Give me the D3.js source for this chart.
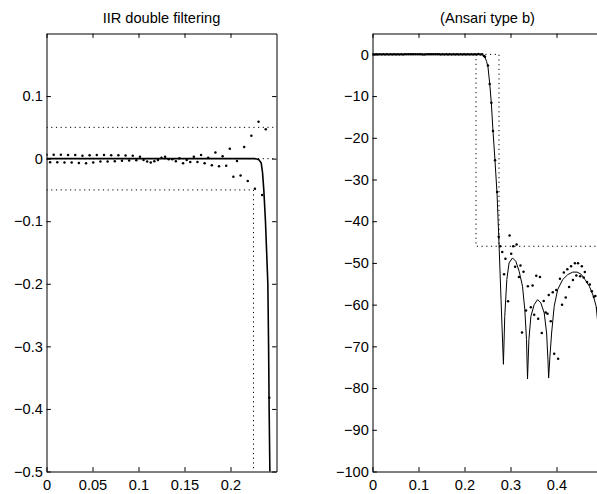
<!DOCTYPE html>
<html><head><meta charset="utf-8">
<script src="https://cdn.jsdelivr.net/npm/d3@7"></script>
<style>
body{margin:0;background:#fff}
svg{display:block}
text{font-family:"Liberation Sans",Arial,Helvetica,sans-serif;fill:#000}
</style>
</head><body>
<svg id="c" width="597" height="494"></svg>
<script>
// ---------------- data ----------------
const titles = ["IIR double filtering", "(Ansari type b)"];

// sampled response (dots), passband samples at k/256
const sampleStep = 1 / 256;
const passbandDb = [
  0.0062,-0.0058,0.0064,-0.0058,0.0063,-0.006,0.006,-0.006,0.0058,-0.0068,
  0.0045,-0.0072,0.0055,-0.0062,0.006,-0.0045,0.0058,-0.0045,0.0055,-0.004,
  0.0055,-0.0035,0.0052,-0.003,0.0045,-0.0025,0.003,-0.002,-0.0045,-0.006,
  -0.004,-0.002,0.0014,0.003,-0.001,-0.001,-0.004,0.0005,-0.0075,-0.002,
  -0.0054,0.003,-0.0054,0.006,-0.0075,0.0014,-0.0107,0.01,-0.0123,0.004,
  -0.0113,0.0158,-0.029,-0.0038,-0.027,0.0185,-0.0357,0.0365,-0.048,0.059,
  -0.058,0.047,-0.382
];
// transition + stopband samples (frequency, dB)
const stopFreq = [0.2445,0.251,0.2548,0.2584,0.262,0.2664,0.2708,0.2744,0.2776,0.2820,
  0.2860,0.2890,0.2947,0.2980,0.3015,0.3060,0.3100,0.3133,0.3184,0.3217,
  0.3250,0.3283,0.3337,0.3377,0.3443,0.3480,0.3515,0.3560,0.3602,0.3640,
  0.3680,0.3722,0.3765,0.3805,0.3832,0.3875,0.3918,0.3950,0.3995,0.4035,
  0.4075,0.4120,0.4160,0.4200,0.4235,0.4275,0.4316,0.4358,0.4400,0.4432,
  0.4468,0.4515,0.4550,0.4590,0.4615,0.4665,0.4724,0.4768,0.4812,0.4845,0.4885];
const stopDb = [-0.6,-2.7,-7.1,-11.6,-18.4,-25.4,-33,-43.7,-46,-47.4,
  -52.7,-49,-59.2,-43.4,-47.8,-46,-50.9,-45.6,-53.4,-50.6,
  -66.7,-52.1,-61.4,-55.6,-60.6,-55.4,-62.4,-53.1,-63.4,-53.4,
  -66.8,-59.1,-61.9,-62.2,-57.7,-64,-57,-71.8,-56.5,-73,
  -53.8,-60,-52.3,-58.3,-51.5,-55.8,-50.8,-54.1,-50.1,-53,
  -50.1,-53.2,-50.8,-53.5,-52.2,-54.6,-55.2,-56.8,-58.1,-57.9,-60.8];

// solid curves
const leftLineFreq = [0,0.226,0.2285,0.2308,0.2334,0.2348,0.2362,0.238,0.2406,0.2414,0.242,0.2428,0.2435];
const leftLineVal  = [0,0,-0.0005,-0.0016,-0.007,-0.022,-0.05,-0.1,-0.2,-0.3,-0.4,-0.5,-0.6];
const rightLineFreq = [0,0.236,0.2405,0.2445,0.248,0.251,0.2548,0.2584,0.262,0.2664,
  0.2708,0.2744,0.2795,0.2846,0.2875,0.292,0.2969,0.3043,0.3115,0.3188,
  0.3261,0.3311,0.3348,0.337,0.34,0.3443,0.3515,0.3588,0.366,0.3733,
  0.3785,0.3814,0.3829,0.3857,0.3894,0.395,0.4025,0.4134,0.4244,0.4353,
  0.4447,0.4534,0.4621,0.4715,0.4803,0.4862,0.4898,0.494,0.5];
const rightLineDb = [0,0,-0.2,-0.7,-1.7,-3,-7,-11.8,-18.5,-25.6,
  -33.5,-43.5,-59,-74.3,-62.8,-54,-50,-48.8,-49.6,-52,
  -55.6,-61.2,-68.4,-77.8,-68.4,-62.8,-60,-58.8,-59.6,-62,
  -66.8,-73.2,-77.6,-72.4,-66.8,-60.4,-56.4,-54,-52.8,-52.2,
  -52.2,-52.7,-54,-55.6,-58,-60.4,-64.4,-72,-90];

// specification (dotted) lines
const leftSpec = [
  [[0,0.05],[0.25,0.05]],
  [[0,0],[0.25,0]],
  [[0,-0.05],[0.225,-0.05],[0.225,-0.5]]
];
const rightSpec = [
  [[0,0],[0.275,0],[0.275,-46]],
  [[0.225,0],[0.225,-46],[0.5,-46]]
];

// axes
const leftXDomain = [0,0.25], leftYDomain = [-0.5,0.2];
const rightXDomain = [0,0.5], rightYDomain = [-100,5];
const leftXTicks = [0,0.05,0.1,0.15,0.2];
const leftYTicks = [-0.5,-0.4,-0.3,-0.2,-0.1,0,0.1];
const rightXTicks = [0,0.1,0.2,0.3,0.4];
const rightYTicks = [-100,-90,-80,-70,-60,-50,-40,-30,-20,-10,0];

// ---------------- drawing ----------------
const svg = d3.select("#c");
const FS = 14.6;
const TICK = 4.4;
const fmt = d => (d < 0 ? "\u2212" : "") + String(Math.abs(d));

const dots = passbandDb.map((v,i)=>({f:i*sampleStep, v}))
  .concat(stopFreq.map((f,i)=>({f, v:stopDb[i]})));

function panel(o) {
  const x = d3.scaleLinear().domain(o.xd).range(o.xr);
  const y = d3.scaleLinear().domain(o.yd).range([471.5, 33.5]);
  const g = svg.append("g");
  const cid = "clip" + o.id;
  svg.append("clipPath").attr("id", cid).append("rect")
    .attr("x", o.xr[0]).attr("y", 33.5).attr("width", o.xr[1]-o.xr[0]).attr("height", 438);
  const pg = g.append("g").attr("clip-path", `url(#${cid})`);
  const line = d3.line().x(d=>x(d[0])).y(d=>y(d[1]));
  pg.selectAll("path.spec").data(o.spec).join("path").attr("class","spec")
    .attr("d", line).attr("fill","none").attr("stroke","#000")
    .attr("stroke-width",1).attr("stroke-dasharray","1.2,3.5");
  pg.append("path").datum(o.lf.map((f,i)=>[f,o.lv[i]]))
    .attr("d", line).attr("fill","none").attr("stroke","#000")
    .attr("stroke-width", o.lw).attr("stroke-linejoin","round");
  pg.selectAll("circle").data(dots.filter(d=>d.f<=o.xd[1]+1e-9)).join("circle")
    .attr("cx", d=>x(d.f)).attr("cy", d=>y(d.v)).attr("r",1.25).attr("fill","#000");

  const style = sel => { sel.attr("font-size", FS).attr("font-family", null);
    sel.selectAll("path,line").attr("stroke","#000").attr("stroke-width",1);
    sel.selectAll("text").attr("fill","#000"); };
  g.append("g").attr("transform",`translate(0,${y.range()[0]})`)
    .call(d3.axisBottom(x).tickValues(o.xt).tickSizeInner(-TICK).tickSizeOuter(0).tickPadding(8).tickFormat(fmt)).call(style);
  g.append("g").attr("transform",`translate(0,${y.range()[1]})`)
    .call(d3.axisTop(x).tickValues(o.xt).tickSizeInner(-TICK).tickSizeOuter(0).tickFormat(()=>"")).call(style);
  g.append("g").attr("transform",`translate(${x.range()[0]},0)`)
    .call(d3.axisLeft(y).tickValues(o.yt).tickSizeInner(-TICK).tickSizeOuter(0).tickPadding(3.7).tickFormat(fmt)).call(style);
  g.append("g").attr("transform",`translate(${x.range()[1]},0)`)
    .call(d3.axisRight(y).tickValues(o.yt).tickSizeInner(-TICK).tickSizeOuter(0).tickFormat(()=>"")).call(style);
  g.append("text").attr("x",(o.xr[0]+o.xr[1])/2).attr("y",23)
    .attr("text-anchor","middle").attr("font-size",FS).text(o.title);
}

panel({id:"L", xd:leftXDomain, yd:leftYDomain, xr:[46.5,276.5], xt:leftXTicks, yt:leftYTicks,
  spec:leftSpec, lf:leftLineFreq, lv:leftLineVal, lw:1.6, title:titles[0]});
panel({id:"R", xd:rightXDomain, yd:rightYDomain, xr:[372.5,602.5], xt:rightXTicks, yt:rightYTicks,
  spec:rightSpec, lf:rightLineFreq, lv:rightLineDb, lw:1, title:titles[1]});
</script>
</body></html>
